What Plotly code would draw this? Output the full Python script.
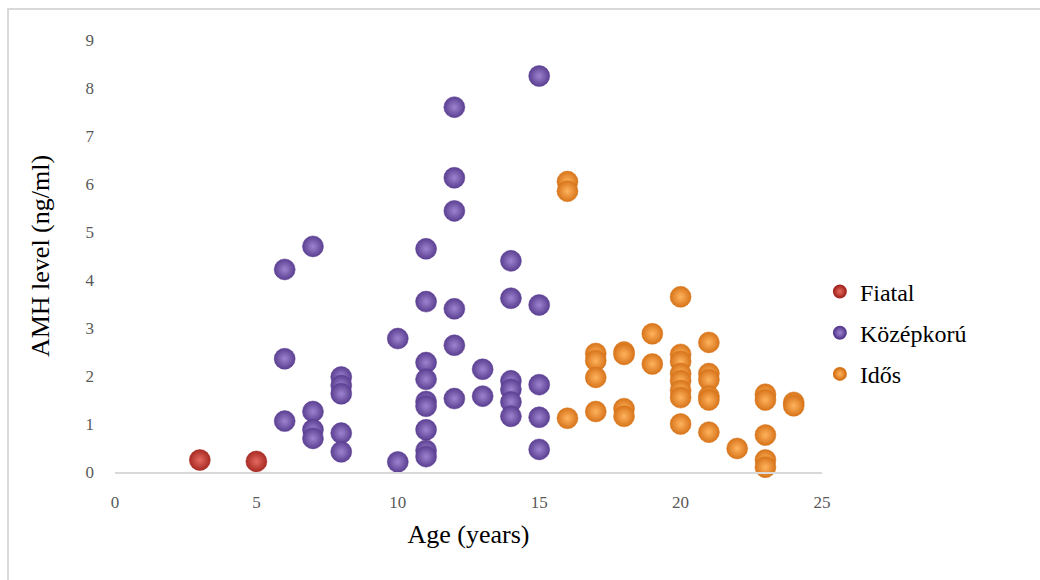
import plotly.graph_objects as go

# ---- data ----
fiatal_age = [3, 5]
fiatal_amh = [0.25, 0.22]

kozep_age = [6, 6, 6,
             7, 7, 7, 7,
             8, 8, 8, 8, 8,
             10, 10,
             11, 11, 11, 11, 11, 11, 11, 11, 11,
             12, 12, 12, 12, 12, 12,
             13, 13,
             14, 14, 14, 14, 14, 14,
             15, 15, 15, 15, 15]
kozep_amh = [4.22, 2.36, 1.06,
             4.70, 1.26, 0.88, 0.70,
             1.98, 1.80, 1.63, 0.81, 0.42,
             2.78, 0.21,
             4.65, 3.55, 2.28, 1.93, 1.47, 1.37, 0.88, 0.45, 0.32,
             7.60, 6.13, 5.44, 3.40, 2.64, 1.53,
             2.14, 1.58,
             4.40, 3.62, 1.90, 1.72, 1.46, 1.16,
             8.25, 3.48, 1.82, 1.14, 0.47]

idos_age = [16, 16, 16,
            17, 17, 17, 17,
            18, 18, 18, 18,
            19, 19,
            20, 20, 20, 20, 20, 20, 20, 20,
            21, 21, 21, 21, 21, 21,
            22,
            23, 23, 23, 23, 23,
            24, 24]
idos_amh = [6.05, 5.85, 1.12,
            2.47, 2.32, 1.97, 1.26,
            2.50, 2.45, 1.32, 1.16,
            2.88, 2.25,
            3.65, 2.45, 2.30, 2.05, 1.90, 1.70, 1.55, 1.00,
            2.70, 2.05, 1.92, 1.58, 1.50, 0.83,
            0.49,
            1.62, 1.50, 0.77, 0.25, 0.10,
            1.45, 1.38]

# name, x, y, edge colour, centre colour
series = [
    ("Fiatal", fiatal_age, fiatal_amh, "#a82a24", "#e46a5e"),
    ("Középkorú", kozep_age, kozep_amh, "#5b3f92", "#9d84cf"),
    ("Idős", idos_age, idos_amh, "#d7741a", "#ffb35e"),
]

SERIF = "Times New Roman, Liberation Serif, serif"

fig = go.Figure()
for name, xs, ys, c_edge, c_center in series:
    fig.add_trace(go.Scatter(
        x=xs, y=ys, mode="markers", name=name, legendgroup=name,
        marker=dict(size=21, color=c_edge,
                    gradient=dict(type="radial", color=c_center),
                    line=dict(width=0.5, color=c_edge)),
        cliponaxis=False,
    ))

fig.update_layout(
    width=1040, height=580,
    margin=dict(l=115, r=218, t=40, b=108),
    paper_bgcolor="white", plot_bgcolor="white",
    font=dict(family=SERIF, color="#000000"),
    showlegend=True,
    legend=dict(x=0.997, y=0.322, xanchor="left", yanchor="middle",
                font=dict(family=SERIF, size=24, color="#000000"),
                tracegroupgap=7, itemsizing="constant", itemwidth=30,
                bgcolor="rgba(0,0,0,0)"),
    xaxis=dict(range=[0, 25], dtick=5, tick0=0, showgrid=False, zeroline=False,
               showline=True, linecolor="#d9d9d9", linewidth=1.5,
               ticks="", ticklabelstandoff=14,
               tickfont=dict(family=SERIF, size=17, color="#595959"),
               title=dict(text="Age (years)", standoff=14,
                          font=dict(family=SERIF, size=26, color="#000000"))),
    yaxis=dict(range=[0, 9], dtick=1, tick0=0, showgrid=False, zeroline=False,
               showline=False, ticks="", ticklabelstandoff=20,
               tickfont=dict(family=SERIF, size=17, color="#595959"),
               title=dict(text="AMH level (ng/ml)", standoff=28,
                          font=dict(family=SERIF, size=26, color="#000000"))),
    shapes=[dict(type="rect", xref="paper", yref="paper",
                 x0=(8 - 115) / 707, x1=(1050 - 115) / 707,
                 y0=(472 - 600) / 432, y1=(472 - 9) / 432,
                 line=dict(color="#d9d9d9", width=2), fillcolor="rgba(0,0,0,0)",
                 layer="below")],
)

fig.write_html("out.html")
